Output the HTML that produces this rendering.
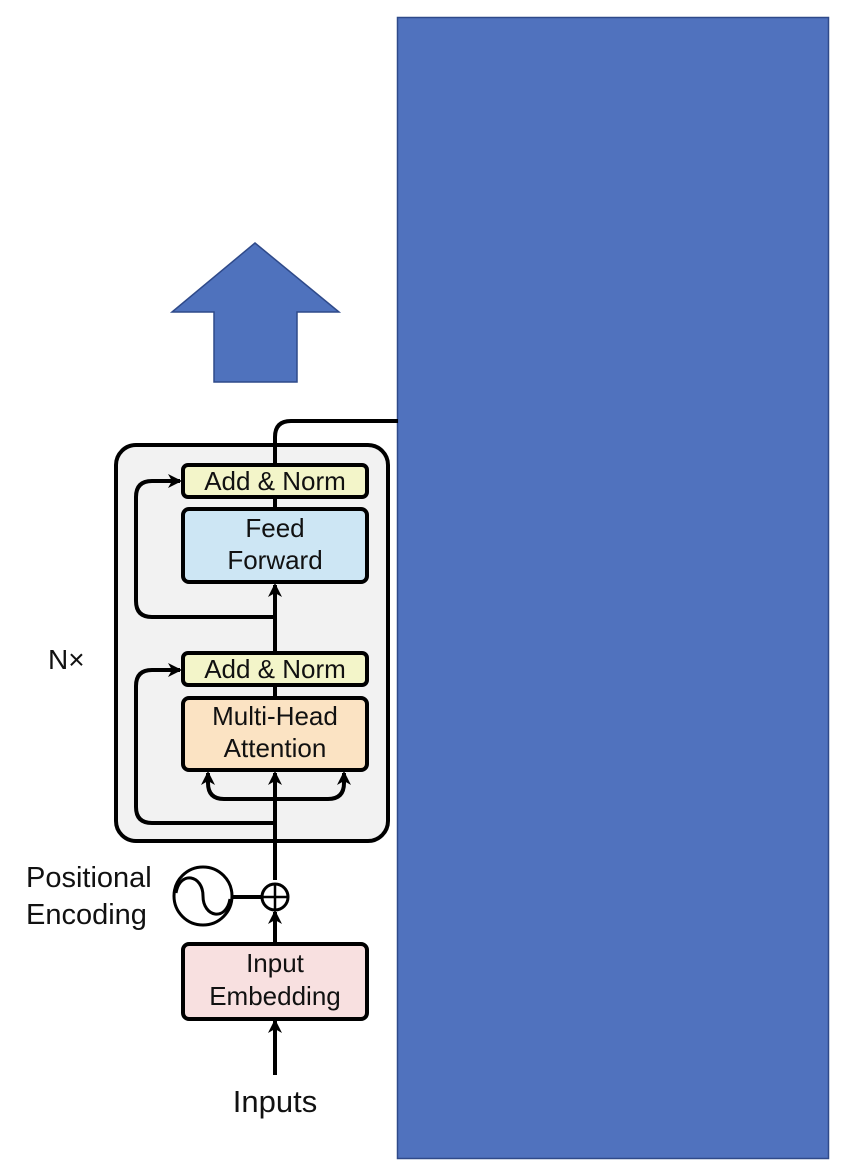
<!DOCTYPE html>
<html><head><style>
html,body{margin:0;padding:0;background:#fff;}
svg{display:block;font-family:"Liberation Sans",sans-serif;}
</style></head><body>
<svg width="868" height="1176" viewBox="0 0 868 1176" xmlns="http://www.w3.org/2000/svg">
<defs>
<marker id="ah" markerWidth="16" markerHeight="16" refX="12" refY="7" orient="auto" markerUnits="userSpaceOnUse">
<path d="M0,0 L14,7 L0,14 L4,7 Z" fill="#000"/>
</marker>
</defs>
<rect x="397.5" y="17.5" width="431" height="1141" fill="#5072BE" stroke="#2F4A8A" stroke-width="1.5"/>
<polygon points="255,243 339,312 297,312 297,382 214,382 214,312 172,312" fill="#4F72BD" stroke="#2F4A8A" stroke-width="1.5"/>
<rect x="116" y="445" width="272" height="396" rx="20" fill="#F2F2F2" stroke="#000" stroke-width="4"/>
<path d="M275,466 L275,437 Q275,421 291,421 L398,421" fill="none" stroke="#000" stroke-width="4"/>
<path d="M275,498 L275,510" stroke="#000" stroke-width="4"/>
<path d="M275,652 L275,585" stroke="#000" stroke-width="4" marker-end="url(#ah)"/>
<path d="M275,686 L275,698" stroke="#000" stroke-width="4"/>
<path d="M275,880 L275,773" stroke="#000" stroke-width="4" marker-end="url(#ah)"/>
<path d="M275,617 L152,617 Q136,617 136,601 L136,497 Q136,481 152,481 L180,481" fill="none" stroke="#000" stroke-width="4" marker-end="url(#ah)"/>
<path d="M275,823 L152,823 Q136,823 136,807 L136,686 Q136,670 152,670 L180,670" fill="none" stroke="#000" stroke-width="4" marker-end="url(#ah)"/>
<path d="M275,799 L224,799 Q208,799 208,783 L208,773" fill="none" stroke="#000" stroke-width="4" marker-end="url(#ah)"/>
<path d="M275,799 L328,799 Q344,799 344,783 L344,773" fill="none" stroke="#000" stroke-width="4" marker-end="url(#ah)"/>
<rect x="183" y="465" width="184" height="32" rx="5" fill="#F3F5C9" stroke="#000" stroke-width="4"/>
<text x="275" y="490" font-size="26" text-anchor="middle" fill="#111">Add &amp; Norm</text>
<rect x="183" y="509" width="184" height="73" rx="6" fill="#CDE6F4" stroke="#000" stroke-width="4"/>
<text x="275" y="537" font-size="26" text-anchor="middle" fill="#111">Feed</text>
<text x="275" y="569" font-size="26" text-anchor="middle" fill="#111">Forward</text>
<rect x="183" y="653" width="184" height="32" rx="5" fill="#F3F5C9" stroke="#000" stroke-width="4"/>
<text x="275" y="678" font-size="26" text-anchor="middle" fill="#111">Add &amp; Norm</text>
<rect x="183" y="698" width="184" height="72" rx="6" fill="#FBE3C3" stroke="#000" stroke-width="4"/>
<text x="275" y="725" font-size="26" text-anchor="middle" fill="#111">Multi-Head</text>
<text x="275" y="757" font-size="26" text-anchor="middle" fill="#111">Attention</text>
<text x="48" y="669" font-size="28" fill="#111">N×</text>
<circle cx="203" cy="896" r="29" fill="#fff" stroke="#000" stroke-width="3"/>
<path d="M176,893 C180,870 203,875 203,896 C203,917 226,922 230,899" fill="none" stroke="#000" stroke-width="3"/>
<path d="M232,897 L262,897" stroke="#000" stroke-width="4"/>
<circle cx="275" cy="897" r="13" fill="#fff" stroke="#000" stroke-width="3"/>
<path d="M263,897 L287,897 M275,885 L275,909" stroke="#000" stroke-width="2.5"/>
<text x="26" y="887" font-size="29" fill="#111">Positional</text>
<text x="26" y="924" font-size="29" fill="#111">Encoding</text>
<path d="M275,943 L275,912" stroke="#000" stroke-width="4" marker-end="url(#ah)"/>
<rect x="183" y="944" width="184" height="75" rx="6" fill="#F8E0E0" stroke="#000" stroke-width="4"/>
<text x="275" y="972" font-size="26" text-anchor="middle" fill="#111">Input</text>
<text x="275" y="1005" font-size="26" text-anchor="middle" fill="#111">Embedding</text>
<path d="M275,1075 L275,1021" stroke="#000" stroke-width="4" marker-end="url(#ah)"/>
<text x="275" y="1112" font-size="31" text-anchor="middle" fill="#111">Inputs</text>
</svg>
</body></html>
